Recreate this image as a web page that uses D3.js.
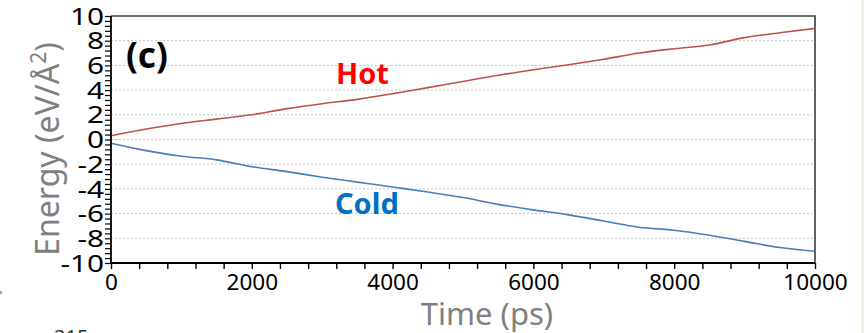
<!DOCTYPE html>
<html>
<head>
<meta charset="utf-8">
<script src="https://cdn.jsdelivr.net/npm/d3@7"></script>
<style>
  html, body { margin: 0; padding: 0; background: #fff; }
  svg { display: block; }
  text { font-family: "Noto Sans", "Open Sans", sans-serif; }
</style>
</head>
<body>
<svg id="chart" width="864" height="333"></svg>
<script>
// Simulation time samples (ps)
const timePs = [0, 500, 1000, 1500, 2000, 2500, 3000, 3500, 4000, 4500, 5000,
                5500, 6000, 6500, 7000, 7500, 8000, 8500, 9000, 9500, 10000];
// Accumulated energy per area, hot and cold reservoirs (eV/Å²)
const hotEnergy  = [0.3, 0.85, 1.3, 1.65, 2.0, 2.5, 2.9, 3.25, 3.7, 4.2, 4.7,
                    5.2, 5.65, 6.05, 6.5, 7.0, 7.35, 7.65, 8.25, 8.65, 9.0];
const coldEnergy = [-0.3, -0.9, -1.35, -1.65, -2.2, -2.6, -3.05, -3.45, -3.85, -4.25, -4.7,
                    -5.25, -5.7, -6.1, -6.6, -7.1, -7.35, -7.75, -8.25, -8.75, -9.05];
// Axis ticks
const xMajorTicks = [0, 2000, 4000, 6000, 8000, 10000];
const yMajorTicks = [-10, -8, -6, -4, -2, 0, 2, 4, 6, 8, 10];
const xMinorStep = 400;
const yMinorStep = 0.4;

const svg = d3.select("#chart");
const m = { left: 111, top: 16, right: 815, bottom: 263 };

const x = d3.scaleLinear().domain([0, 10000]).range([m.left, m.right]);
const y = d3.scaleLinear().domain([-10, 10]).range([m.bottom, m.top]);

// Dotted horizontal gridlines at the major y values
svg.append("g")
  .selectAll("line")
  .data(yMajorTicks.filter(v => v > -10 && v < 10))
  .join("line")
  .attr("x1", m.left).attr("x2", m.right)
  .attr("y1", d => y(d)).attr("y2", d => y(d))
  .attr("stroke", "#c4c4c4")
  .attr("stroke-width", 1)
  .attr("stroke-dasharray", "2,2");

// Top and right frame
svg.append("path")
  .attr("d", `M${m.left},${m.top}H${m.right}V${m.bottom}`)
  .attr("fill", "none")
  .attr("stroke", "#3a3a3a")
  .attr("stroke-width", 1.6);

// Energy curves
const line = d3.line()
  .x((d, i) => x(timePs[i]))
  .y(d => y(d))
  .curve(d3.curveMonotoneX);

svg.append("path")
  .datum(hotEnergy)
  .attr("d", line)
  .attr("fill", "none")
  .attr("stroke", "#C0504D")
  .attr("stroke-width", 1.6);

svg.append("path")
  .datum(coldEnergy)
  .attr("d", line)
  .attr("fill", "none")
  .attr("stroke", "#4A7EBB")
  .attr("stroke-width", 1.6);

// Minor ticks
const xMinor = d3.range(0, 10000 + 1, xMinorStep);
const yMinor = d3.range(-10, 10 + 1e-9, yMinorStep);

const xAxis = d3.axisBottom(x)
  .tickValues(xMinor)
  .tickSize(6)
  .tickFormat(d => xMajorTicks.includes(Math.round(d)) ? d3.format("d")(d) : "");
const gx = svg.append("g")
  .attr("transform", `translate(0,${m.bottom})`)
  .call(xAxis);
gx.select(".domain").attr("stroke", "#000").attr("stroke-width", 1.8)
  .attr("d", `M${m.left},0H${m.right}`);
gx.selectAll(".tick line").attr("stroke", "#000").attr("stroke-width", 1.4);
gx.selectAll(".tick text")
  .attr("fill", "#000")
  .attr("font-size", 22.5)
  .attr("y", 11)
  .attr("dy", "0.71em");

const yAxis = d3.axisLeft(y)
  .tickValues(yMinor)
  .tickSize(6)
  .tickFormat("");
const gy = svg.append("g")
  .attr("transform", `translate(${m.left},0)`)
  .call(yAxis);
gy.select(".domain").attr("stroke", "#000").attr("stroke-width", 1.8)
  .attr("d", `M0,${m.top}V${m.bottom}`);
gy.selectAll(".tick line").attr("stroke", "#000").attr("stroke-width", 1.2);

// Y tick labels (horizontally widened)
svg.append("g")
  .selectAll("text")
  .data(yMajorTicks)
  .join("text")
  .attr("transform", d => `translate(104,${y(d)}) scale(1.24,1)`)
  .attr("text-anchor", "end")
  .attr("dy", "0.36em")
  .attr("font-size", 24)
  .attr("fill", "#000")
  .text(d => d);

// Panel label and curve labels
svg.append("text")
  .attr("x", 126).attr("y", 68)
  .attr("font-size", 35).attr("font-weight", "bold")
  .attr("fill", "#000")
  .text("(c)");

svg.append("text")
  .attr("x", 336).attr("y", 84)
  .attr("font-size", 29).attr("font-weight", "bold")
  .attr("fill", "#FF0000")
  .text("Hot");

svg.append("text")
  .attr("x", 335).attr("y", 214)
  .attr("font-size", 29).attr("font-weight", "bold")
  .attr("fill", "#0070C0")
  .text("Cold");

// Axis titles
svg.append("text")
  .attr("x", 487).attr("y", 325)
  .attr("text-anchor", "middle")
  .attr("font-size", 31)
  .attr("fill", "#808080")
  .text("Time (ps)");

const yt = svg.append("text")
  .attr("transform", "translate(59,149) rotate(-90)")
  .attr("text-anchor", "middle")
  .attr("font-size", 32)
  .attr("fill", "#808080");
yt.append("tspan").text("Energy (eV/Å");
yt.append("tspan").attr("font-size", 21).attr("dy", -13).text("2");
yt.append("tspan").attr("dy", 13).text(")");

// Page edge details
svg.append("rect")
  .attr("x", 861).attr("y", 0).attr("width", 3).attr("height", 333)
  .attr("fill", "#EAF1DD");
svg.append("rect")
  .attr("x", 0).attr("y", 291).attr("width", 2).attr("height", 3)
  .attr("fill", "#5BB8E0");
svg.append("text")
  .attr("x", 54).attr("y", 344)
  .attr("font-size", 20)
  .attr("fill", "#333")
  .text("315");
</script>
</body>
</html>
